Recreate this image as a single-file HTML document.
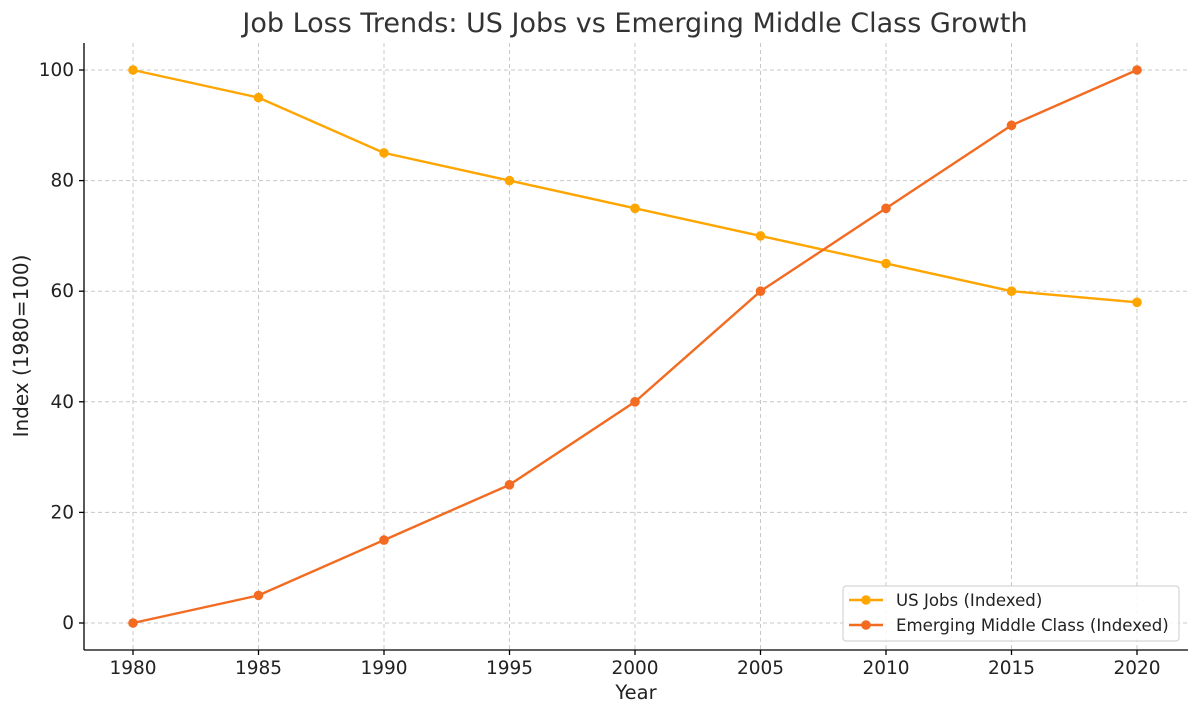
<!DOCTYPE html>
<html><head><meta charset="utf-8"><style>body{margin:0;background:#fff}svg{display:block}text{font-family:"DejaVu Sans","Liberation Sans",sans-serif;fill:#222}</style></head>
<body>
<svg width="1200" height="715" viewBox="0 0 1200 715">
<g stroke="#c8c8c8" stroke-dasharray="4,3" stroke-width="1">
<line x1="133" y1="43" x2="133" y2="650"/><line x1="258.5" y1="43" x2="258.5" y2="650"/><line x1="384" y1="43" x2="384" y2="650"/><line x1="509.5" y1="43" x2="509.5" y2="650"/><line x1="635" y1="43" x2="635" y2="650"/><line x1="760.5" y1="43" x2="760.5" y2="650"/><line x1="886" y1="43" x2="886" y2="650"/><line x1="1011.5" y1="43" x2="1011.5" y2="650"/><line x1="1137" y1="43" x2="1137" y2="650"/>
<line x1="84" y1="623" x2="1188" y2="623"/><line x1="84" y1="512.4" x2="1188" y2="512.4"/><line x1="84" y1="401.8" x2="1188" y2="401.8"/><line x1="84" y1="291.2" x2="1188" y2="291.2"/><line x1="84" y1="180.6" x2="1188" y2="180.6"/><line x1="84" y1="70" x2="1188" y2="70"/>
</g>
<polyline fill="none" stroke="#FFA500" stroke-width="2.4" points="133,70 258.5,97.6 384,152.9 509.5,180.6 635,208.3 760.5,235.9 886,263.5 1011.5,291.2 1137,302.3"/>
<g fill="#FFA500"><circle cx="133" cy="70" r="4.8"/><circle cx="258.5" cy="97.6" r="4.8"/><circle cx="384" cy="152.9" r="4.8"/><circle cx="509.5" cy="180.6" r="4.8"/><circle cx="635" cy="208.3" r="4.8"/><circle cx="760.5" cy="235.9" r="4.8"/><circle cx="886" cy="263.5" r="4.8"/><circle cx="1011.5" cy="291.2" r="4.8"/><circle cx="1137" cy="302.3" r="4.8"/></g>
<polyline fill="none" stroke="#F26B21" stroke-width="2.4" points="133,623 258.5,595.4 384,540.1 509.5,484.8 635,401.8 760.5,291.2 886,208.3 1011.5,125.3 1137,70"/>
<g fill="#F26B21"><circle cx="133" cy="623" r="4.8"/><circle cx="258.5" cy="595.4" r="4.8"/><circle cx="384" cy="540.1" r="4.8"/><circle cx="509.5" cy="484.8" r="4.8"/><circle cx="635" cy="401.8" r="4.8"/><circle cx="760.5" cy="291.2" r="4.8"/><circle cx="886" cy="208.3" r="4.8"/><circle cx="1011.5" cy="125.3" r="4.8"/><circle cx="1137" cy="70" r="4.8"/></g>
<g stroke="#000" stroke-width="1.3"><line x1="84" y1="43" x2="84" y2="650"/><line x1="84" y1="650" x2="1188" y2="650"/>
<line x1="133" y1="650" x2="133" y2="655"/><line x1="258.5" y1="650" x2="258.5" y2="655"/><line x1="384" y1="650" x2="384" y2="655"/><line x1="509.5" y1="650" x2="509.5" y2="655"/><line x1="635" y1="650" x2="635" y2="655"/><line x1="760.5" y1="650" x2="760.5" y2="655"/><line x1="886" y1="650" x2="886" y2="655"/><line x1="1011.5" y1="650" x2="1011.5" y2="655"/><line x1="1137" y1="650" x2="1137" y2="655"/>
<line x1="79" y1="623" x2="84" y2="623"/><line x1="79" y1="512.4" x2="84" y2="512.4"/><line x1="79" y1="401.8" x2="84" y2="401.8"/><line x1="79" y1="291.2" x2="84" y2="291.2"/><line x1="79" y1="180.6" x2="84" y2="180.6"/><line x1="79" y1="70" x2="84" y2="70"/></g>
<g font-size="18.5" text-anchor="middle"><text x="133" y="674">1980</text><text x="258.5" y="674">1985</text><text x="384" y="674">1990</text><text x="509.5" y="674">1995</text><text x="635" y="674">2000</text><text x="760.5" y="674">2005</text><text x="886" y="674">2010</text><text x="1011.5" y="674">2015</text><text x="1137" y="674">2020</text></g>
<g font-size="18.5" text-anchor="end"><text x="74" y="629">0</text><text x="74" y="518.4">20</text><text x="74" y="407.8">40</text><text x="74" y="297.2">60</text><text x="74" y="186.6">80</text><text x="74" y="76">100</text></g>
<text x="636" y="699" font-size="19.5" text-anchor="middle">Year</text>
<text transform="translate(28,346) rotate(-90)" font-size="20" text-anchor="middle">Index (1980=100)</text>
<text x="635" y="32" font-size="27" text-anchor="middle" style="fill:#333">Job Loss Trends: US Jobs vs Emerging Middle Class Growth</text>
<rect x="843" y="586" width="336" height="55" rx="3" fill="#fff" fill-opacity="0.85" stroke="#ccc"/>
<line x1="849" y1="600" x2="883" y2="600" stroke="#FFA500" stroke-width="2.4"/><circle cx="866" cy="600" r="4.8" fill="#FFA500"/>
<line x1="849" y1="625" x2="883" y2="625" stroke="#F26B21" stroke-width="2.4"/><circle cx="866" cy="625" r="4.8" fill="#F26B21"/>
<text x="896" y="606" font-size="16.6">US Jobs (Indexed)</text>
<text x="896" y="631" font-size="16.6">Emerging Middle Class (Indexed)</text>
</svg>
</body></html>
